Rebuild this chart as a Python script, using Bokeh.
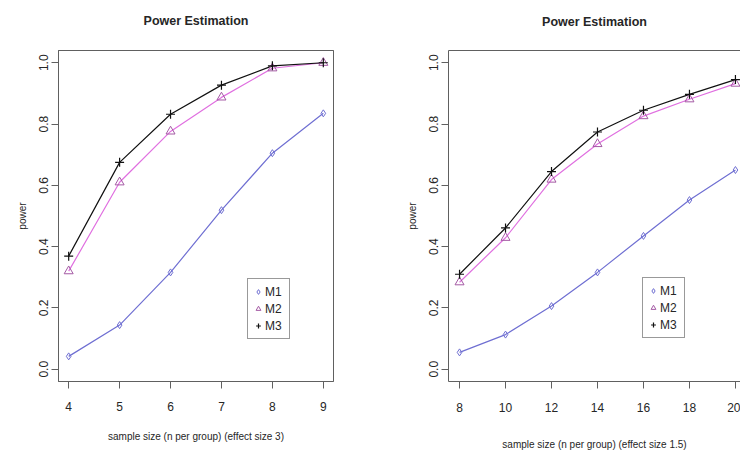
from bokeh.plotting import figure
from bokeh.models import Range1d, FixedTicker, NumeralTickFormatter, Legend, LegendItem, LinearAxis
from bokeh.layouts import row
from bokeh.embed import file_html
from bokeh.resources import INLINE

# ---------------- data ----------------
title_text = "Power Estimation"
y_label = "power"
series_names = ["M1", "M2", "M3"]
y_ticks = [0.0, 0.2, 0.4, 0.6, 0.8, 1.0]

x_left = [4, 5, 6, 7, 8, 9]
m1_left = [0.042, 0.144, 0.316, 0.519, 0.705, 0.835]
m2_left = [0.320, 0.610, 0.776, 0.887, 0.982, 1.000]
m3_left = [0.369, 0.675, 0.832, 0.927, 0.990, 1.000]
x_label_left = "sample size (n per group) (effect size 3)"

x_right = [8, 10, 12, 14, 16, 18, 20]
m1_right = [0.055, 0.113, 0.206, 0.316, 0.435, 0.552, 0.650]
m2_right = [0.284, 0.429, 0.619, 0.735, 0.826, 0.881, 0.932]
m3_right = [0.310, 0.461, 0.645, 0.774, 0.845, 0.897, 0.945]
x_label_right = "sample size (n per group) (effect size 1.5)"

FONT = "Liberation Sans"
TXT = "#262626"
BOX = "#606060"
C1 = "#6f6fd2"
C2 = "#e070e0"
C2M = "#a45aa4"
C3 = "#111111"


def style_axis(ax, ticks, fmt=None, vertical=False, tick_so=13, lab_so=17):
    ax.ticker = FixedTicker(ticks=ticks)
    if fmt:
        ax.formatter = NumeralTickFormatter(format=fmt)
    ax.axis_line_color = BOX
    ax.major_tick_line_color = BOX
    ax.major_tick_out = 7
    ax.major_tick_in = 0
    ax.minor_tick_line_color = None
    ax.major_label_text_font = FONT
    ax.major_label_text_font_size = "12px"
    ax.major_label_text_color = TXT
    ax.axis_label_text_font = FONT
    ax.axis_label_text_font_size = "10px"
    ax.axis_label_text_font_style = "normal"
    ax.axis_label_text_color = TXT
    if vertical:
        ax.major_label_orientation = "vertical"
        ax.major_label_standoff = 3
        ax.axis_label_standoff = 9
    else:
        ax.major_label_standoff = tick_so
        ax.axis_label_standoff = lab_so


def make_panel(xs, m1, m2, m3, xlab, xr, width, bl, br, bt, bb, full_box, leg_loc,
               title_so, tick_so, lab_so):
    p = figure(width=width, height=454, output_backend="svg", toolbar_location=None,
               x_range=xr, y_range=Range1d(-0.04, 1.04),
               min_border_left=bl, min_border_right=br, min_border_top=bt, min_border_bottom=bb)
    p.background_fill_color = "white"
    p.border_fill_color = "white"
    p.grid.visible = False
    style_axis(p.xaxis[0], xs, tick_so=tick_so, lab_so=lab_so)
    style_axis(p.yaxis[0], y_ticks, fmt="0.0", vertical=True)
    p.xaxis[0].axis_label = xlab
    p.yaxis[0].axis_label = y_label
    p.outline_line_color = BOX if full_box else None
    # top axis: box top edge + chart title as its label
    top = LinearAxis(ticker=FixedTicker(ticks=[]), axis_line_color=BOX,
                     major_tick_line_color=None, minor_tick_line_color=None,
                     major_tick_out=0, major_tick_in=0, major_label_standoff=0,
                     major_label_text_font_size="0px",
                     axis_label=title_text, axis_label_standoff=title_so,
                     axis_label_text_font=FONT, axis_label_text_font_size="12.5px",
                     axis_label_text_font_style="bold", axis_label_text_color=TXT)
    p.add_layout(top, "above")

    p.line(xs, m1, line_color=C1, line_width=1.2)
    p.line(xs, m2, line_color=C2, line_width=1.2)
    p.line(xs, m3, line_color=C3, line_width=1.2)
    r1 = p.scatter(xs, m1, marker="diamond", size=7, fill_color=None, line_color=C1, line_width=1)
    r2 = p.scatter(xs, m2, marker="triangle", size=9, fill_color=None, line_color=C2M, line_width=1)
    r3 = p.scatter(xs, m3, marker="cross", size=9, line_color=C3, line_width=1.2)

    leg = Legend(items=[LegendItem(label=series_names[0], renderers=[r1]),
                        LegendItem(label=series_names[1], renderers=[r2]),
                        LegendItem(label=series_names[2], renderers=[r3])],
                 location=leg_loc)
    leg.border_line_color = "#333333"
    leg.border_line_width = 1
    leg.background_fill_color = "white"
    leg.background_fill_alpha = 1
    leg.padding = 4
    leg.margin = 0
    leg.spacing = 0
    leg.glyph_width = 12
    leg.glyph_height = 17
    leg.label_height = 17
    leg.label_standoff = 1
    leg.label_text_font = FONT
    leg.label_text_font_size = "12px"
    leg.label_text_color = TXT
    p.add_layout(leg, "center")
    return p


p1 = make_panel(x_left, m1_left, m2_left, m3_left, x_label_left,
                Range1d(3.8, 9.2), 370, 58, 37, 48, 73, True, (189, 42),
                23, 13, 17)
p2 = make_panel(x_right, m1_right, m2_right, m3_right, x_label_right,
                Range1d(7.52, 20.22), 370, 78, 0, 50, 67, False, (194, 43),
                22, 14, 24)

layout = row(p1, p2)
open("out.html", "w").write(file_html(layout, INLINE))
